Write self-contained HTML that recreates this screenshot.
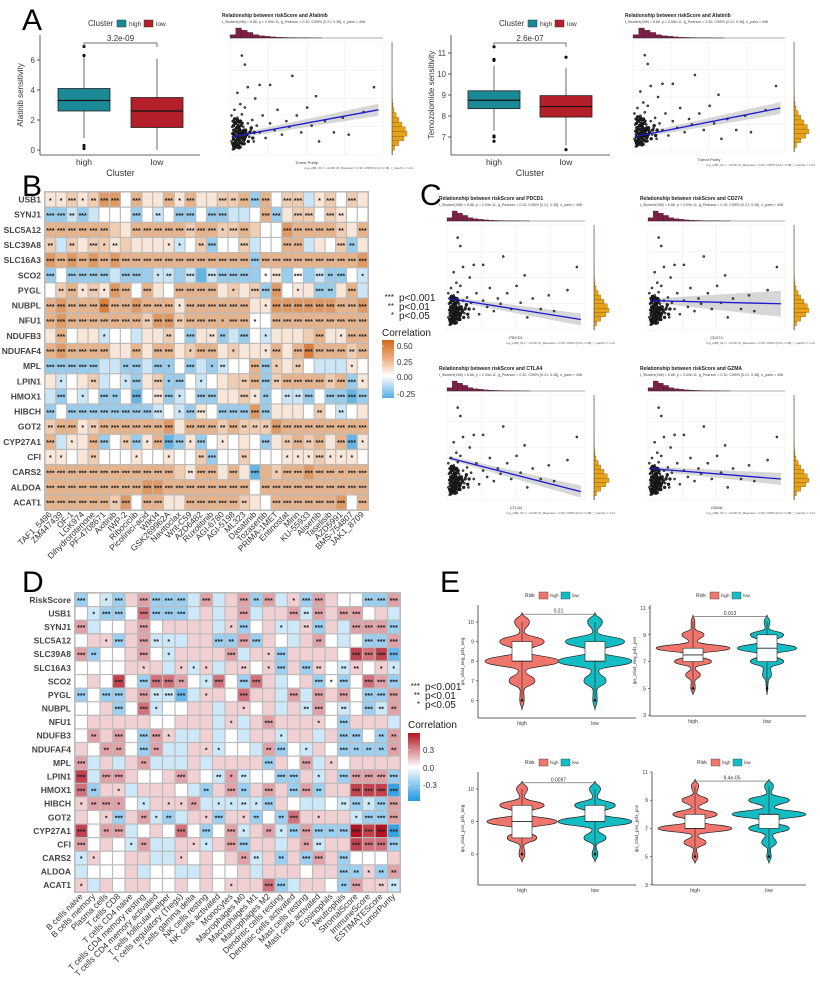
<!DOCTYPE html>
<html><head><meta charset="utf-8">
<style>
html,body{margin:0;padding:0;background:#fff;}
svg{display:block;font-family:"Liberation Sans",Arial,sans-serif;}
</style></head>
<body>
<svg id="fig" width="820" height="986" viewBox="0 0 820 986" xmlns="http://www.w3.org/2000/svg">
<text x="22" y="30" font-size="30">A</text>
<text x="22" y="196" font-size="30">B</text>
<text x="420" y="205" font-size="30">C</text>
<text x="22" y="592" font-size="30">D</text>
<text x="440" y="592" font-size="30">E</text>
</svg>
<script>
const NS='http://www.w3.org/2000/svg';
const svg=document.getElementById('fig');
function mk(tag,attrs,parent,txt){const e=document.createElementNS(NS,tag);for(const k in attrs)e.setAttribute(k,attrs[k]);if(txt!==undefined)e.textContent=txt;(parent||svg).appendChild(e);return e;}

/* ---------- Panel A box plot data ---------- */
const boxGroups=['high','low'];
const afatQ=[[0.8,2.6,3.3,4.1,6.2],[0,1.5,2.6,3.5,6.1]];
const afatOut=[[6.9,6.3,0.3,0.1],[]];
const afatTicks=[0,2,4,6];
const temoQ=[[7.3,8.35,8.75,9.2,10.4],[6.6,7.95,8.45,8.97,10.3]];
const temoOut=[[11.3,10.7,10.65,7.05,7.0,6.8],[10.8,6.4]];
const temoTicks=[7,8,9,10,11];
const boxColors=['#1b8a96','#b41f2a'];

function boxPanel(o){
  const g=mk('g',{});
  
  
  const ys=v=>o.y0-(v-o.vmin)*o.ppu;
  mk('line',{x1:o.ax,y1:o.top,x2:o.ax,y2:o.bottom,stroke:'#333','stroke-width':0.8},g);
  mk('line',{x1:o.ax,y1:o.bottom,x2:o.right,y2:o.bottom,stroke:'#333','stroke-width':0.8},g);
  o.ticks.forEach(t=>{const y=ys(t);mk('line',{x1:o.ax-3,y1:y,x2:o.ax,y2:y,stroke:'#333','stroke-width':0.8},g);mk('text',{x:o.ax-5,y:y+3,'font-size':8,'text-anchor':'end',fill:'#444'},g,String(t));});
  o.q.forEach((q,i)=>{
    const cx=o.cx[i],hw=26;
    const b=mk('g',{},g);
    
    
    mk('line',{x1:cx,y1:ys(q[0]),x2:cx,y2:ys(q[4]),stroke:'#444','stroke-width':0.8},b);
    mk('rect',{x:cx-hw,y:ys(q[3]),width:2*hw,height:ys(q[1])-ys(q[3]),fill:boxColors[i],stroke:'#222','stroke-width':0.8},b);
    mk('line',{x1:cx-hw,y1:ys(q[2]),x2:cx+hw,y2:ys(q[2]),stroke:'#111','stroke-width':1.2},b);
    o.out[i].forEach(v=>mk('circle',{cx:cx,cy:ys(v),r:1.6,fill:'#111'},b));
    mk('text',{x:cx,y:o.bottom+10,'font-size':8.5,'text-anchor':'middle',fill:'#333'},g,boxGroups[i]);
  });
  const by=o.top+8;
  mk('path',{d:`M${o.cx[0]} ${by+4}V${by}H${o.cx[1]}V${by+4}`,fill:'none',stroke:'#444','stroke-width':0.7},g);
  mk('text',{x:(o.cx[0]+o.cx[1])/2,y:by-2,'font-size':8,'text-anchor':'middle',fill:'#333'},g,o.p);
  mk('text',{x:(o.cx[0]+o.cx[1])/2,y:o.bottom+21,'font-size':9,'text-anchor':'middle',fill:'#333'},g,'Cluster');
  mk('text',{x:0,y:0,'font-size':8,'text-anchor':'middle',fill:'#333',transform:`translate(${o.ax-17},${(o.top+o.bottom)/2}) rotate(-90)`},g,o.ylab);
  const lx=o.ax+48,ly=23;
  mk('text',{x:lx,y:ly+3,'font-size':8,fill:'#333'},g,'Cluster');
  mk('rect',{x:lx+29,y:ly-3,width:9,height:7,fill:boxColors[0],stroke:'#333','stroke-width':0.5},g);
  mk('text',{x:lx+41,y:ly+3,'font-size':6.5,fill:'#333'},g,'high');
  mk('rect',{x:lx+56,y:ly-3,width:9,height:7,fill:boxColors[1],stroke:'#333','stroke-width':0.5},g);
  mk('text',{x:lx+68,y:ly+3,'font-size':6.5,fill:'#333'},g,'low');
}
boxPanel({name:'afatinib-boxplot',ax:40,right:200,top:35,bottom:155,y0:150,vmin:0,ppu:15,ticks:afatTicks,q:afatQ,out:afatOut,cx:[84,157],p:'3.2e-09',ylab:'Afatinib sensitivity'});
boxPanel({name:'temozolomide-boxplot',ax:451,right:610,top:35,bottom:155,y0:137,vmin:7,ppu:21,ticks:temoTicks,q:temoQ,out:temoOut,cx:[494,566],p:'2.6e-07',ylab:'Temozolomide sensitivity'});

/* ---------- scatter plots ---------- */
const scatterPts=[[0.01,0.12],[0.02,0.16],[0.03,0.2],[0.015,0.25],[0.04,0.1],[0.05,0.15],[0.02,0.3],[0.06,0.22],[0.07,0.12],[0.03,0.08],[0.08,0.18],[0.01,0.35],[0.04,0.28],[0.09,0.25],[0.1,0.14],[0.05,0.33],[0.11,0.2],[0.02,0.05],[0.06,0.06],[0.12,0.28],[0.13,0.16],[0.03,0.4],[0.08,0.36],[0.14,0.22],[0.15,0.31],[0.07,0.45],[0.16,0.12],[0.18,0.26],[0.2,0.2],[0.05,0.55],[0.1,0.42],[0.22,0.35],[0.24,0.15],[0.17,0.5],[0.27,0.28],[0.3,0.22],[0.32,0.4],[0.12,0.6],[0.35,0.18],[0.38,0.3],[0.4,0.25],[0.2,0.62],[0.45,0.35],[0.48,0.2],[0.52,0.42],[0.55,0.26],[0.6,0.12],[0.64,0.3],[0.7,0.2],[0.76,0.33],[0.8,0.18],[0.9,0.38],[0.97,0.6],[0.08,0.88],[0.1,0.8],[0.27,0.62],[0.42,0.7],[0.58,0.52]];
const blobPts=[[0.005,0.1],[0.01,0.14],[0.015,0.18],[0.02,0.22],[0.025,0.12],[0.03,0.16],[0.035,0.2],[0.04,0.14],[0.045,0.24],[0.05,0.12],[0.055,0.18],[0.06,0.15],[0.065,0.21],[0.07,0.1],[0.075,0.16],[0.08,0.13],[0.085,0.2],[0.09,0.16],[0.01,0.08],[0.02,0.11],[0.03,0.13],[0.04,0.17],[0.05,0.19],[0.06,0.11],[0.07,0.19],[0.08,0.22],[0.01,0.26],[0.02,0.28],[0.03,0.24],[0.04,0.26],[0.05,0.23],[0.06,0.26],[0.015,0.06],[0.025,0.09],[0.035,0.07],[0.045,0.09],[0.055,0.07],[0.1,0.18],[0.11,0.12],[0.12,0.2],[0.005,0.19],[0.012,0.22],[0.022,0.17],[0.032,0.1],[0.042,0.21],[0.052,0.15],[0.062,0.18],[0.072,0.14],[0.082,0.1],[0.092,0.22],[0.008,0.3],[0.018,0.32],[0.028,0.29],[0.038,0.31],[0.048,0.29],[0.058,0.3],[0.068,0.28],[0.13,0.24],[0.14,0.15],[0.15,0.2]];
const topHist=[3,9,7,5,3,2,1.5,1,0.7,0.5,0.4,0.3,0.2,0.2,0.1,0.1];
const rightHist=[0.3,1.5,4,7,9,8,6,4,2.5,1.2,0.6,0.3,0.2,0.1,0.1,0.05,0.05,0.05,0.05,0.05,0.05,0.05,0.05,0.05];
const scatterLines=[[0.16,0.4],[0.14,0.4],[0.3,0.1],[0.28,0.25],[0.4,0.08],[0.3,0.2]];

function scatter(o,li,name){
  const g=mk('g',{});
  
  
  const {x0,y0,w,h}=o;
  mk('text',{x:x0-8,y:y0-25,'font-size':5,'font-weight':'bold',fill:'#222'},g,o.title);
  mk('text',{x:x0-8,y:y0-19,'font-size':3.6,fill:'#444'},g,'t_Student(498) = 6.86, p = 2.09e-11, ĝ_Pearson = 0.30, CI95% [0.21, 0.38], n_pairs = 498');
  for(let i=0;i<=4;i++){const x=x0+w*i/4;mk('line',{x1:x,y1:y0,x2:x,y2:y0+h,stroke:'#ececec','stroke-width':0.6},g);const y=y0+h*i/4;mk('line',{x1:x0,y1:y,x2:x0+w,y2:y,stroke:'#ececec','stroke-width':0.6},g);}
  const bw=w*0.6/topHist.length, hmax=Math.max(...topHist);
  topHist.forEach((v,i)=>mk('rect',{x:x0+i*bw,y:y0-4-10*v/hmax,width:bw,height:10*v/hmax,fill:'#7b2148',stroke:'#3a0f22','stroke-width':0.3},g));
  mk('line',{x1:x0,y1:y0-4,x2:x0+w,y2:y0-4,stroke:'#333','stroke-width':0.4},g);
  const bh=h/rightHist.length, rmax=Math.max(...rightHist);
  const rx=x0+w+9;
  rightHist.forEach((v,i)=>mk('rect',{x:rx,y:y0+h-(i+1)*bh,width:15*v/rmax,height:bh,fill:'#e6a31a',stroke:'#6b4b08','stroke-width':0.3},g));
  mk('line',{x1:rx,y1:y0,x2:rx,y2:y0+h,stroke:'#333','stroke-width':0.4},g);
  const L=scatterLines[li];
  const ya=y0+h-L[0]*h, yb=y0+h-L[1]*h, band=o.band||6;
  mk('path',{d:`M${x0+2} ${ya-2}L${x0+w*0.97} ${yb-band}L${x0+w*0.97} ${yb+band}L${x0+2} ${ya+2}Z`,fill:'#bdbdbd','fill-opacity':0.6},g);
  scatterPts.forEach(p=>mk('circle',{cx:x0+p[0]*w*0.97,cy:y0+h-p[1]*h,r:1.1,fill:'#555',stroke:'#111','stroke-width':0.5},g));
  blobPts.forEach(p=>mk('circle',{cx:x0+2+p[0]*w*0.97,cy:y0+h-p[1]*h,r:1.5,fill:'#222',stroke:'#000','stroke-width':0.4},g));
  mk('line',{x1:x0+2,y1:ya,x2:x0+w*0.97,y2:yb,stroke:'#1b1bd0','stroke-width':1.3},g);
  mk('text',{x:x0+w/2,y:y0+h+9,'font-size':4,'text-anchor':'middle',fill:'#333'},g,o.xl);
  mk('text',{x:x0+w+30,y:y0+h+14,'font-size':3,'text-anchor':'end',fill:'#555'},g,'log_e(BF_01) = -19.68, R²_Bayesian = 0.30, CI95% [0.21, 0.38], r_Cauchy = 1.41');
}
scatter({x0:230,y0:42,w:153,h:113,title:'Relationship between riskScore and Afatinib',xl:'Tumor Purity'},0,'afatinib-scatter');
scatter({x0:633,y0:42,w:152,h:110,title:'Relationship between riskScore and Afatinib',xl:'Tumor Purity'},1,'temozolomide-scatter');
scatter({x0:447,y0:225,w:138,h:105,title:'Relationship between riskScore and PDCD1',xl:'PDCD1'},2,'pdcd1-scatter');
scatter({x0:648,y0:225,w:137,h:105,title:'Relationship between riskScore and CD274',xl:'CD274',band:13},3,'cd274-scatter');
scatter({x0:447,y0:395,w:138,h:105,title:'Relationship between riskScore and CTLA4',xl:'CTLA4'},4,'ctla4-scatter');
scatter({x0:648,y0:395,w:137,h:105,title:'Relationship between riskScore and GZMA',xl:'GZMA'},5,'gzma-scatter');

/* ---------- Heatmap B ---------- */
const bRows=['USB1','SYNJ1','SLC5A12','SLC39A8','SLC16A3','SCO2','PYGL','NUBPL','NFU1','NDUFB3','NDUFAF4','MPL','LPIN1','HMOX1','HIBCH','GOT2','CYP27A1','CFI','CARS2','ALDOA','ACAT1'];
const bCols=['TAF1_5496','ZM447439','OF-1','LGK974','Dihydrorotenone','PF-4708671','Axitinib','IWP-2','Ribociclib','Picolinici-acid','WIKI4','GSK269962A','Navitoclax','Wnt-C59','AZD6482','Ruxolitinib','AGI-6780','AGI-5198','ML323','Dasatinib','Tozasertib','PRIMA-1MET','Entinostat','Mirin','KU-55933','Alisertib','Taselisib','AZD5991','BMS-754807','JAK1_8709'];
/* digit = +tenths, letter a/b/c = -0.1/-0.2/-0.3 */
const bVals=['1121244031131311223b3022a12021','bbaba000b0a0bb0bbaa03b12202100','333333213333323322320043333213','2a2122121111a02b002a0033a102b1','4343434333333333333b3333333334','b0bbbbabbbaabacabbbb01b0babb0a','02312143031033331212b4011bb13a','343335334333133333311444444334','343333333244233333300333333333','13011a00a1120b11bab0a111231133','343333113133123312111313533323','bbbbbaabbabb0baba003b2120aaa10','1a012a0ab12bb0a01223b2333323b1','ab0a0bb0c01ba0bb1121b0aab0bbcb','b0bbbbbbbba0ab10bbb4b111020a01','233123333334133323222433333333','3a113b02b13cb1b01010b1232313c1','110120001001002b00200011121110','333333333333213313 1c3233433333','333333333443333333303333333333','333333240331133333210333333403'];
const bStars=['113123303003130032333033013030','332300003020330330003303303200','333333003333333313300033333203','202031200001102300300033000320','333333333333333333333333333333','303333033012030333301303032301','023131330300333301033301032030','333333333333133333301333333333','333333333233233313310333333333','030001000002030220301000030133','333333003033013301001303333323','333330023031030120033102000010','010020013031301000233233332331','030103203033103300312022303333','303333333330133033333000020200','233123333333033323222333333333','301033023133313010003023230331','110020001001002300200011131110','333333333333023303030133333233','333333333333333333303333333333','333333230330033333200333333303'];
function parseRow(s,n){s=s.replace(/ /g,'');const out=[];for(let i=0;i<n;i++){const c=s[i]||'0';out.push(c>='a'?-(c.charCodeAt(0)-96)/10:(+c)/10);}return out;}
function parseStars(s,n){s=s.replace(/ /g,'');const out=[];for(let i=0;i<n;i++)out.push(+(s[i]||0));return out;}

function lerp(a,b,t){return a.map((v,i)=>Math.round(v+(b[i]-v)*t));}
function colB(v){if(v>=0){const t=Math.min(v/0.55,1);return 'rgb('+lerp([255,255,255],[214,115,40],t).join(',')+')';}const t=Math.min(-v/0.32,1);return 'rgb('+lerp([255,255,255],[90,175,226],t).join(',')+')';}
function colD(v){if(v>=0){const t=Math.min(v/0.5,1);return 'rgb('+lerp([255,255,255],[178,20,36],t).join(',')+')';}const t=Math.min(-v/0.45,1);return 'rgb('+lerp([255,255,255],[30,150,225],t).join(',')+')';}

function heatmap(o){
  const g=mk('g',{});
  
  
  const cw=o.w/o.cols.length, ch=o.h/o.rows.length;
  mk('rect',{x:o.x0-1,y:o.y0-1,width:o.w+2,height:o.h+2,fill:'#bbb'},g);
  o.rows.forEach((r,i)=>{
    const vals=parseRow(o.vals[i],o.cols.length), st=parseStars(o.stars[i],o.cols.length);
    vals.forEach((v,j)=>{
      const c=mk('rect',{x:o.x0+j*cw+0.6,y:o.y0+i*ch+0.6,width:cw-1.2,height:ch-1.2,fill:o.col(v)},g);
      
      
      if(st[j]>0)mk('text',{x:o.x0+(j+0.5)*cw,y:o.y0+(i+0.5)*ch+3.2,'font-size':7,'text-anchor':'middle',fill:'#222','font-weight':'bold'},g,'*'.repeat(st[j]));
    });
    mk('text',{x:o.x0-4,y:o.y0+(i+0.5)*ch+3,'font-size':8.5,'font-weight':'bold','text-anchor':'end',fill:'#444'},g,r);
  });
  o.cols.forEach((c,j)=>{const x=o.x0+(j+0.5)*cw+2,y=o.y0+o.h+5;mk('text',{x:x,y:y,'font-size':8.5,'text-anchor':'end',fill:'#333',transform:`rotate(-45 ${x} ${y})`},g,c);});
}
heatmap({name:'drug-correlation-heatmap',x0:45,y0:192,w:323,h:318,rows:bRows,cols:bCols,vals:bVals,stars:bStars,col:colB});

/* ---------- Heatmap D ---------- */
const dRows=['RiskScore','USB1','SYNJ1','SLC5A12','SLC39A8','SLC16A3','SCO2','PYGL','NUBPL','NFU1','NDUFB3','NDUFAF4','MPL','LPIN1','HMOX1','HIBCH','GOT2','CYP27A1','CFI','CARS2','ALDOA','ACAT1'];
const dCols=['B cells naive','B cells memory','Plasma cells','T cells CD8','T cells CD4 naive','T cells CD4 memory resting','T cells CD4 memory activated','T cells follicular helper','T cells regulatory (Tregs)','T cells gamma delta','NK cells resting','NK cells activated','Monocytes','Macrophages M0','Macrophages M1','Macrophages M2','Dendritic cells resting','Dendritic cells activated','Mast cells resting','Mast cells activated','Eosinophils','Neutrophils','StromalScore','ImmuneScore','ESTIMATEScore','TumorPurity'];
const dVals=['b0ab12bbba2a12b2a1b2100bb2','0abb03bbba1a12a112a212201a','2a001201111a1b01aa1b1a222b','011b12aaa11bb2b10a120a0bb2','2b00120a11112a11b11110434c','0000111a1a1a1101b1b10a101a','01040b3320a30b31a01b0b032b','b0bb12aaca110311a2a2120bb2','001b03a0011a1101a1a20a0ba2','01111100111a1a1211110b111a','02120b21aa1a0a11a11a1bb0b2','10220b2aa11a00a2b0a10bbbb2','2a1a12aaa1a1111b102a101111','4a221001210a2a00bb1a1b222b','3b11a1110ab12b121b2b11444d','12220a1112aaaaab10aa0abab2','101b12aba11b11b0b31111abb2','4022a01030b02a12ab2bbb545d','2010a2aa11a12b11a12a11433b','a10011aa101012a1b1b21b0001','a0001a00aa1001a111011bb1b2','1a10110010101113ba110b211a'];
const dStars=['30130333303003230133000333','01330333300003000323033000','30000300000013001023003333','00130321000323300002000333','32000301000030013000003333','00000100111002013032022011','00030333201303300003130333','30330323301003000303030333','00030310000001000023020322','00000000000010030001030000','02030331000000001000033022','00220320001100023010032222','30000200000000030030100000','30330000300212003301033333','32010000002032030332003333','12310101120112130000023133','00130212001301202301001333','30230000303031021333233333','30001200011033000022003333','11000000100002202033030000','00000000000000000000032122','10000000000010033000023022'];
heatmap({name:'immune-correlation-heatmap',x0:75,y0:593,w:325,h:299,rows:dRows,cols:dCols,vals:dVals,stars:dStars,col:colD});

/* ---------- legends for heatmaps ---------- */
function hmLegend(o){
  const g=mk('g',{});
  
  
  [['***','p<0.001'],['**','p<0.01'],['*','p<0.05']].forEach((r,i)=>{mk('text',{x:o.x+12,y:o.y+i*9,'font-size':8,'text-anchor':'end',fill:'#222'},g,r[0]);mk('text',{x:o.x+17,y:o.y+i*9+1,'font-size':10,fill:'#222'},g,r[1]);});
  mk('text',{x:o.x,y:o.cy,'font-size':10,fill:'#222'},g,'Correlation');
  const gid='grad-'+o.name;
  const defs=mk('defs',{},g);const lg=mk('linearGradient',{id:gid,x1:0,y1:0,x2:0,y2:1},defs);
  o.stops.forEach(s=>mk('stop',{offset:s[0],'stop-color':s[1]},lg));
  mk('rect',{x:o.x,y:o.by,width:12,height:o.bh,fill:`url(#${gid})`},g);
  o.ticks.forEach(t=>{mk('text',{x:o.x+15,y:t[1]+3,'font-size':8,fill:'#333'},g,t[0]);mk('line',{x1:o.x,y1:t[1],x2:o.x+2,y2:t[1],stroke:'#fff','stroke-width':0.6},g);});
}
hmLegend({name:'drug-heatmap-legend',x:382,y:300,cy:336,by:340,bh:58,stops:[[0,'#d36a1c'],[0.35,'#efb58a'],[0.62,'#ffffff'],[1,'#56aee4']],ticks:[['0.50',346],['0.25',362],['0.00',377],['-0.25',394]]});
hmLegend({name:'immune-heatmap-legend',x:408,y:689,cy:728,by:733,bh:68,stops:[[0,'#b3141f'],[0.5,'#ffffff'],[1,'#1e96e1']],ticks:[['0.3',750],['0.0',768],['-0.3',785]]});

/* ---------- Panel E violins ---------- */
const vGroups=['high','low'];
const vLevels1=[5.5,6,6.5,7,7.5,8,8.5,9,9.5,10,10.5];
const vDens1=[[0,0.06,0.05,0.35,0.1,1.0,0.15,0.6,0.06,0.2,0],[0,0.06,0.05,0.3,0.1,1.0,0.15,0.8,0.06,0.2,0]];
const vLevels2=[4.5,5,5.5,6,6.5,7,7.5,8,8.5,9,9.5,10,10.5];
const vDens2=[[0,0.06,0.05,0.2,0.06,0.5,0.12,1.0,0.12,0.3,0.05,0.05,0],[0,0.02,0.03,0.12,0.1,0.45,0.2,0.8,0.2,0.45,0.05,0.08,0]];
const vLevels3=[5.5,6,6.5,7,7.5,8,8.5,9,9.5,10,10.5];
const vDens3=[[0,0.08,0.05,0.4,0.1,0.95,0.12,0.6,0.06,0.15,0],[0,0.08,0.03,0.3,0.08,1.0,0.15,0.55,0.06,0.15,0]];
const vLevels4=[4.5,5,5.5,6,6.5,7,7.5,8,8.5,9,9.5,10,10.5];
const vDens4=[[0,0.08,0.04,0.3,0.08,1.0,0.15,0.6,0.1,0.35,0.05,0.1,0],[0,0.06,0.04,0.2,0.1,0.55,0.15,1.0,0.15,0.55,0.06,0.12,0]];
const vBox=[[[8,8,9],[8,8,9]],[[7,7.5,8],[7,8,9]],[[7,8,9],[8,8,9]],[[7,7,8],[7,8,8]]];
const vColors=['#f0766d','#14bdc3'];
const eP=['0.21','0.013','0.0097','9.4e-05'];
const eYlab=['ips_ctla4_neg_pd1_neg','ips_ctla4_neg_pd1_pos','ips_ctla4_pos_pd1_neg','ips_ctla4_pos_pd1_pos'];
const eTicks=[[6,7,8,9,10],[3,5,7,9,11],[6,8,10],[3,5,7,9,11]];

function violinPanel(k,o,levels,dens){
  const g=mk('g',{});
  
  
  const ys=v=>o.yref-(v-o.vref)*o.ppu;
  mk('line',{x1:o.ax,y1:o.top,x2:o.ax,y2:o.bottom,stroke:'#333','stroke-width':0.8},g);
  mk('line',{x1:o.ax,y1:o.bottom,x2:o.right,y2:o.bottom,stroke:'#333','stroke-width':0.8},g);
  eTicks[k].forEach(t=>{const y=ys(t);mk('line',{x1:o.ax-2,y1:y,x2:o.ax,y2:y,stroke:'#333','stroke-width':0.6},g);mk('text',{x:o.ax-4,y:y+2,'font-size':5.5,'text-anchor':'end',fill:'#444'},g,String(t));});
  mk('text',{x:0,y:0,'font-size':4.5,'text-anchor':'middle',fill:'#333',transform:`translate(${o.ax-14},${(o.top+o.bottom)/2}) rotate(-90)`},g,eYlab[k]);
  const lx=(o.ax+o.right)/2-32,ly=o.top-10;
  mk('text',{x:lx,y:ly+2,'font-size':5,fill:'#333'},g,'Risk');
  mk('rect',{x:lx+14,y:ly-3,width:9,height:7,fill:vColors[0],stroke:'#333','stroke-width':0.4},g);
  mk('text',{x:lx+25,y:ly+2,'font-size':4.5,fill:'#333'},g,'high');
  mk('rect',{x:lx+36,y:ly-3,width:9,height:7,fill:vColors[1],stroke:'#333','stroke-width':0.4},g);
  mk('text',{x:lx+47,y:ly+2,'font-size':4.5,fill:'#333'},g,'low');
  dens.forEach((d,i)=>{
    const cx=o.cx[i];
    const pts=levels.map((v,j)=>[d[j]*37,ys(v)]);
    let r='M'+cx+' '+pts[0][1];
    for(let j=1;j<pts.length;j++){const p0=pts[j-1],p1=pts[j];const my=(p0[1]+p1[1])/2;r+=` C${cx+p0[0]} ${my} ${cx+p1[0]} ${my} ${cx+p1[0]} ${p1[1]}`;}
    for(let j=pts.length-2;j>=0;j--){const p0=pts[j+1],p1=pts[j];const my=(p0[1]+p1[1])/2;r+=` C${cx-p0[0]} ${my} ${cx-p1[0]} ${my} ${cx-p1[0]} ${p1[1]}`;}
    const v=mk('path',{d:r+'Z',fill:vColors[i],stroke:'#222','stroke-width':0.7},g);
    
    
    const b=vBox[k][i];
    mk('line',{x1:cx,y1:ys(levels[1]),x2:cx,y2:ys(levels[levels.length-2]),stroke:'#222','stroke-width':0.6},g);
    mk('rect',{x:cx-10,y:ys(b[2]),width:20,height:ys(b[0])-ys(b[2]),fill:'#fff',stroke:'#222','stroke-width':0.6},g);
    mk('line',{x1:cx-10,y1:ys(b[1]),x2:cx+10,y2:ys(b[1]),stroke:'#222','stroke-width':0.9},g);
    mk('circle',{cx:cx,cy:ys(levels[1]),r:1.3,fill:'#111'},g);
    mk('text',{x:cx,y:o.bottom+7,'font-size':5,'text-anchor':'middle',fill:'#333'},g,vGroups[i]);
  });
  const by=ys(levels[levels.length-1])+2;
  mk('path',{d:`M${o.cx[0]} ${by}H${o.cx[1]}`,stroke:'#555','stroke-width':0.6},g);
  mk('text',{x:(o.cx[0]+o.cx[1])/2,y:by-1.5,'font-size':5,'text-anchor':'middle',fill:'#333'},g,eP[k]);
}
violinPanel(0,{ax:478,right:636,top:605,bottom:718,yref:622,vref:10,ppu:19.6,cx:[522,595]},vLevels1,vDens1);
violinPanel(1,{ax:650,right:806,top:605,bottom:716,yref:608,vref:11,ppu:13.4,cx:[693,767]},vLevels2,vDens2);
violinPanel(2,{ax:478,right:636,top:772,bottom:885,yref:789,vref:10,ppu:16.3,cx:[522,595]},vLevels3,vDens3);
violinPanel(3,{ax:652,right:806,top:772,bottom:885,yref:772,vref:11,ppu:14.1,cx:[695,769]},vLevels4,vDens4);
</script>
</body></html>
